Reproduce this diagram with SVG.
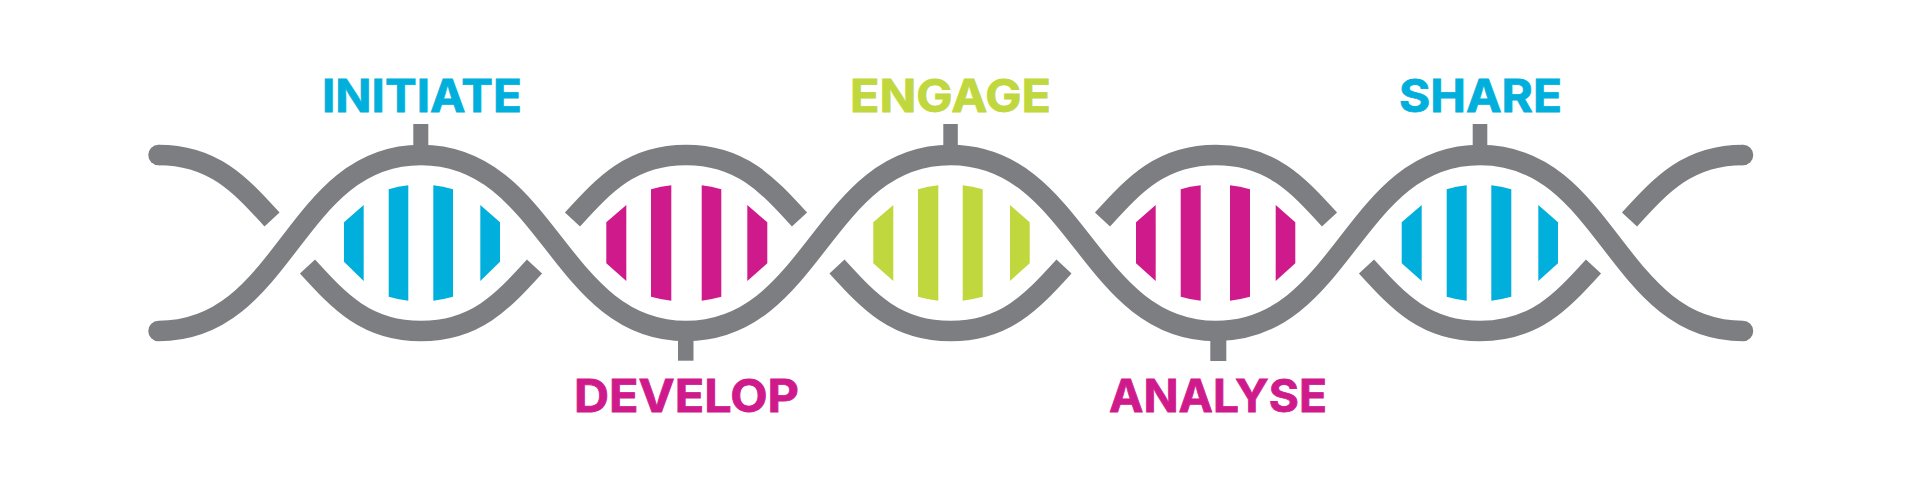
<svg xmlns="http://www.w3.org/2000/svg" width="1920" height="491" viewBox="0 0 1920 491">
<style>
.s{fill:none;stroke:#7d7e82;stroke-width:20.500}
.f{fill:#7d7e82}
.t{font-family:"Inter","Liberation Sans",sans-serif;font-weight:700;font-size:45px;stroke-width:.8}
.c{fill:#00afdb}.m{fill:#cf1a8b}.g{fill:#c0d73e}
text.c{stroke:#00afdb}text.m{stroke:#cf1a8b}text.g{stroke:#c0d73e}
</style>
<rect width="1920" height="491" fill="#fff"/>
<g id="connectors">
<path class="s" stroke-linecap="round" d="M158.500 331C286.500 331 293 155 421 155C549 155 558 331 686 331C814 331 822.500 155 950.500 155C1078.500 155 1088 331 1216 331C1344 331 1352 155 1480 155C1608 155 1615 331 1743 331"/>
<path class="s" d="M158.500 155C213.500 155 240.500 185 272 219.500"/>
<circle class="f" cx="158.500" cy="155" r="10.250"/>
<path class="s" d="M307.500 266.500C339 301 366 331 421 331C476 331 503 301 534.500 266.500"/>
<path class="s" d="M572.500 219.500C604 185 631 155 686 155C741 155 768 185 799.500 219.500"/>
<path class="s" d="M837 266.500C868.500 301 895.500 331 950.500 331C1005.500 331 1032.500 301 1064 266.500"/>
<path class="s" d="M1102.500 219.500C1134 185 1161 155 1216 155C1271 155 1298 185 1329.500 219.500"/>
<path class="s" d="M1366.500 266.500C1398 301 1425 331 1480 331C1535 331 1562 301 1593.500 266.500"/>
<path class="s" d="M1743 155C1688 155 1661 185 1629.500 219.500"/>
<circle class="f" cx="1743" cy="155" r="10.250"/>
</g>
<g id="initiate">
<rect class="f" x="413.300" y="124" width="15" height="25"/>
<text class="t c" x="322" y="111.700" textLength="200" lengthAdjust="spacingAndGlyphs">INITIATE</text>
<g class="c"><path d="M363.700 205L344 222.300V261.700L363.700 281Z"/><path d="M388.700 189.300Q398 186.500 408.300 185.300V300.700Q398 299.500 388.700 296.700Z"/><path d="M433.300 185.300Q443 186.500 453 189.300V296.700Q443 299.500 433.300 300.700Z"/><path d="M480.300 205L500 222.300V261.700L480.300 281Z"/></g>
</g>
<g id="develop">
<rect class="f" x="678" y="337" width="15.500" height="23.700"/>
<text class="t m" x="574" y="412.300" textLength="225" lengthAdjust="spacingAndGlyphs">DEVELOP</text>
<g class="m"><path d="M626.300 205L606.300 222.300V263.300L626.300 281Z"/><path d="M651 189.300Q661 186.500 671.300 185.300V300.700Q661 299.500 651 296.700Z"/><path d="M701.700 185.300Q711 186.500 721.300 189.300V296.700Q711 299.500 701.700 300.700Z"/><path d="M747.300 205L767.300 222.300V263.300L747.300 281Z"/></g>
</g>
<g id="engage">
<rect class="f" x="943.300" y="124" width="14.500" height="25"/>
<text class="t g" x="850" y="111.700" textLength="201" lengthAdjust="spacingAndGlyphs">ENGAGE</text>
<g class="g"><path d="M893.300 205L873.300 222.300V263.300L893.300 281Z"/><path d="M918 189.300Q928 186.500 938.300 185.300V300.700Q928 299.500 918 296.700Z"/><path d="M962.700 185.300Q972 186.500 982.700 189.300V296.700Q972 299.500 962.700 300.700Z"/><path d="M1010 205L1029.700 222.300V263.300L1010 281Z"/></g>
</g>
<g id="analyse">
<rect class="f" x="1210.300" y="337" width="16" height="24"/>
<text class="t m" x="1109" y="412.300" textLength="218" lengthAdjust="spacingAndGlyphs">ANALYSE</text>
<g class="m"><path d="M1155.700 205L1136 222.300V263.300L1155.700 281Z"/><path d="M1180.700 189.300Q1190 186.500 1200.700 185.300V300.700Q1190 299.500 1180.700 296.700Z"/><path d="M1230 185.300Q1240 186.500 1250 189.300V296.700Q1240 299.500 1230 300.700Z"/><path d="M1275.700 205L1295.300 222.300V263.300L1275.700 281Z"/></g>
</g>
<g id="share">
<rect class="f" x="1472.700" y="124" width="14.600" height="25"/>
<text class="t c" x="1399" y="111.700" textLength="163" lengthAdjust="spacingAndGlyphs">SHARE</text>
<g class="c"><path d="M1421.700 205L1401.700 222.300V263.300L1421.700 281Z"/><path d="M1446.700 189.300Q1456 186.500 1466.700 185.300V300.700Q1456 299.500 1446.700 296.700Z"/><path d="M1491.300 185.300Q1501 186.500 1511.300 189.300V296.700Q1501 299.500 1491.300 300.700Z"/><path d="M1538.300 205L1558 222.300V263.300L1538.300 281Z"/></g>
</g>
</svg>
